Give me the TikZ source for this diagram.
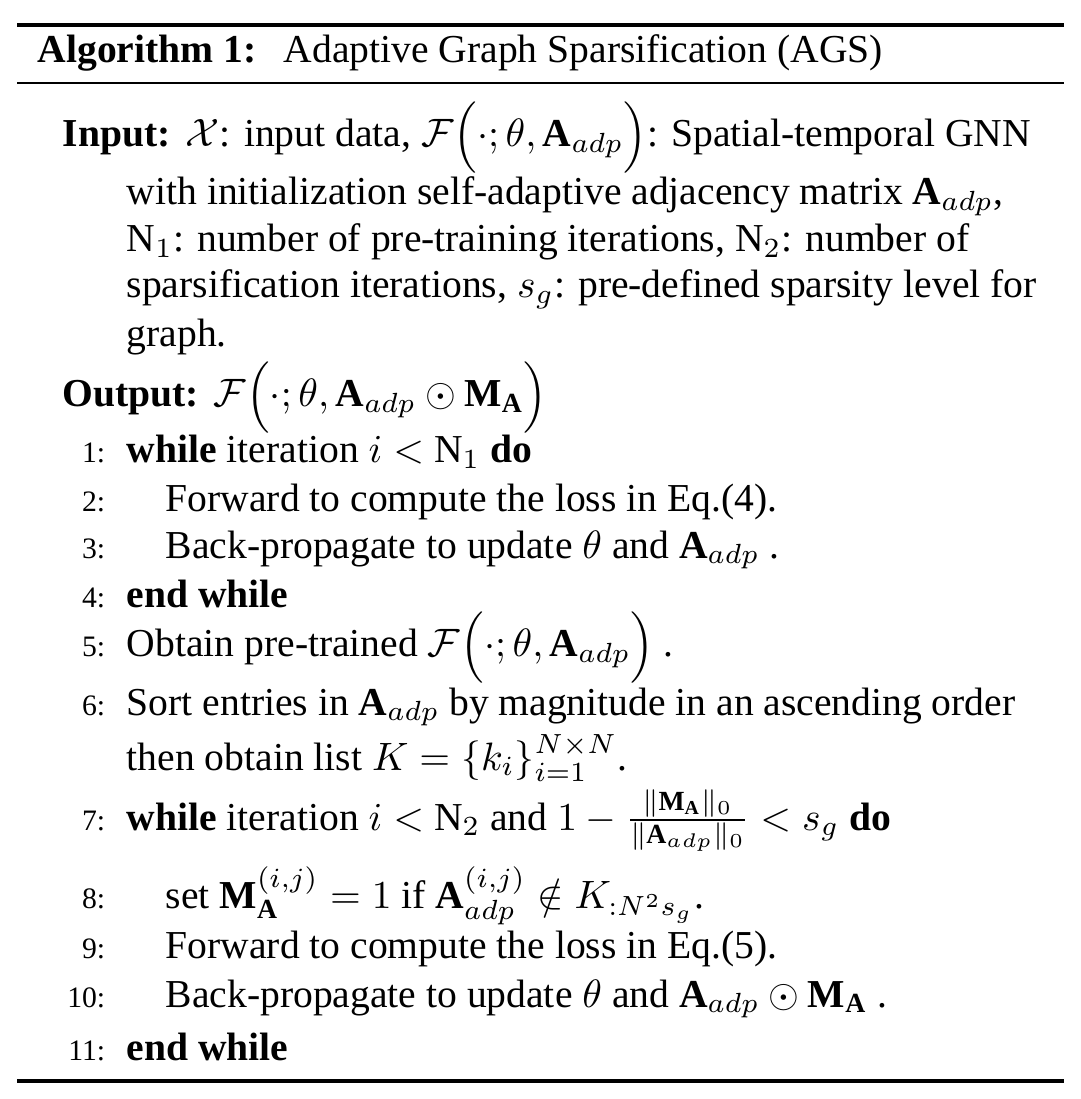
\documentclass[tikz,border=0pt]{standalone}
\usepackage{amsmath}
\usepackage{fontspec}
\setmainfont{Liberation Serif}
\newcommand{\bodyfont}{\fontsize{10}{12}\selectfont}
\newcommand{\numfont}{\fontsize{7.5}{9}\selectfont}
\newcommand{\Aadp}{\mathbf{A}_{adp}}
\newcommand{\MA}{\mathbf{M}_{\mathbf{A}}}
\tikzset{
  txt/.style={anchor=base west, inner sep=0pt, font=\bodyfont},
  lnum/.style={anchor=base east, inner sep=0pt, font=\numfont},
  rulethick/.style={line width=0.95pt, draw=black},
  rulethin/.style={line width=0.75pt, draw=black}
}
\begin{document}
\begin{tikzpicture}[x=0.2526pt, y=-0.2526pt]
\useasboundingbox (0,0) rectangle (1080,1099);
% rules
\coordinate (r1a) at (17,25);   \coordinate (r1b) at (1064,25);
\coordinate (r2a) at (17,83);   \coordinate (r2b) at (1064,83);
\coordinate (r3a) at (17,1081); \coordinate (r3b) at (1064,1081);
\draw[rulethick] (r1a) -- (r1b);
\draw[rulethin] (r2a) -- (r2b);
\draw[rulethick] (r3a) -- (r3b);
% title
\node[txt] (tlab) at (37,63) {\textbf{Algorithm 1:}};
\node[txt] (ttl) at (283,63) {Adaptive Graph Sparsification (AGS)};
% input
\node[txt] (inlab) at (62,147) {\textbf{Input:}};
\node[txt] (in1) at (185,147) {$\mathcal{X}$: input data, $\mathcal{F}\Big(\cdot;\theta,\Aadp\Big)$: Spatial-temporal GNN};
\node[txt] (in2) at (126,205) {with initialization self-adaptive adjacency matrix $\Aadp$,};
\node[txt] (in3) at (126,252) {N$_1$: number of pre-training iterations, N$_2$: number of};
\node[txt] (in4) at (126,298) {sparsification iterations, $s_g$: pre-defined sparsity level for};
\node[txt] (in5) at (126,347) {graph.};
% output
\node[txt] (outlab) at (62,407) {\textbf{Output:}};
\node[txt] (out1) at (213,407) {$\mathcal{F}\Big(\cdot;\theta,\Aadp\odot\MA\Big)$};
% steps
\node[lnum] (n1) at (106,463) {1:};
\node[txt] (s1) at (126,463) {\textbf{while} iteration $i<$ N$_1$ \textbf{do}};
\node[lnum] (n2) at (106,512) {2:};
\node[txt] (s2) at (165,512) {Forward to compute the loss in Eq.(4).};
\node[lnum] (n3) at (106,558) {3:};
\node[txt] (s3) at (165,558) {Back-propagate to update $\theta$ and $\Aadp$ .};
\node[lnum] (n4) at (106,607) {4:};
\node[txt] (s4) at (126,607) {\textbf{end while}};
\node[lnum] (n5) at (106,657) {5:};
\node[txt] (s5) at (126,657) {Obtain pre-trained $\mathcal{F}\Big(\cdot;\theta,\Aadp\Big)$ .};
\node[lnum] (n6) at (106,715) {6:};
\node[txt] (s6) at (126,715) {Sort entries in $\Aadp$ by magnitude in an ascending order};
\node[txt] (s6b) at (126,770) {then obtain list $K=\{k_i\}_{i=1}^{N\times N}$.};
\node[lnum] (n7) at (106,830) {7:};
\node[txt] (s7) at (126,830) {\textbf{while} iteration $i<$ N$_2$ and $1-\frac{\|\MA\|_0}{\|\Aadp\|_0}<s_g$ \textbf{do}};
\node[lnum] (n8) at (106,908) {8:};
\node[txt] (s8) at (165,908) {set $\MA^{(i,j)}=1$ if $\Aadp^{(i,j)}\notin K_{:N^2s_g}$.};
\node[lnum] (n9) at (106,958) {9:};
\node[txt] (s9) at (165,958) {Forward to compute the loss in Eq.(5).};
\node[lnum] (n10) at (106,1007) {10:};
\node[txt] (s10) at (165,1007) {Back-propagate to update $\theta$ and $\Aadp\odot\MA$ .};
\node[lnum] (n11) at (106,1060) {11:};
\node[txt] (s11) at (126,1060) {\textbf{end while}};
\end{tikzpicture}
\end{document}
